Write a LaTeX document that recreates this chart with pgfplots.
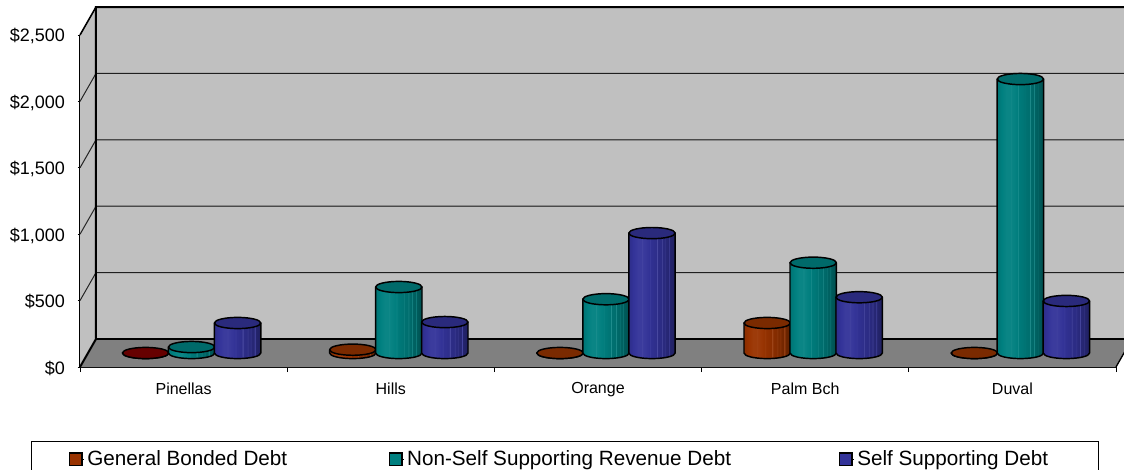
\documentclass[border=0pt]{standalone}
\usepackage{pgfplots}
\usepackage{fontspec}
\setmainfont{Liberation Sans}
\pgfplotsset{compat=1.18}

% Debt by county, in millions of dollars
\pgfplotstableread{
i bonded
0 0
1 25
2 0
3 226
4 0
}\bondeddata
\pgfplotstableread{
i revenue
0 45
1 497
2 405
3 680
4 2063
}\revenuedata
\pgfplotstableread{
i selfsupp
0 226
1 233
2 903
3 420
4 392
}\selfsuppdata

\definecolor{cbonded}{HTML}{993300}
\definecolor{crevenue}{HTML}{008080}
\definecolor{cselfsupp}{HTML}{333399}
\definecolor{tbonded}{HTML}{7A2A00}
\definecolor{trevenue}{HTML}{006A6A}
\definecolor{tselfsupp}{HTML}{2A2A7C}
\definecolor{tzero}{HTML}{660000}

% Faceted side of a cylinder: lit on the left, dark on the right
\newcommand\cylshading[2]{%
  \pgfdeclarehorizontalshading{#1}{100bp}{%
    color(0bp)=(#2!90!black); color(25bp)=(#2!90!black);
    color(30bp)=(#2); color(35bp)=(#2!96!white); color(39bp)=(#2!96!white);
    color(39.5bp)=(#2!88!white); color(40bp)=(#2!96!white);
    color(47bp)=(#2!98!black); color(47.5bp)=(#2!90!white); color(48bp)=(#2!96!black);
    color(55bp)=(#2!90!black); color(55.5bp)=(#2!86!white); color(56bp)=(#2!88!black);
    color(60bp)=(#2!86!black); color(60.5bp)=(#2!84!white); color(61bp)=(#2!84!black);
    color(64bp)=(#2!80!black); color(64.5bp)=(#2!88!white); color(65bp)=(#2!78!black);
    color(68bp)=(#2!74!black); color(68.5bp)=(#2!90!white); color(69bp)=(#2!72!black);
    color(75bp)=(#2!62!black); color(100bp)=(#2!62!black)}}
\cylshading{sbonded}{cbonded}
\cylshading{srevenue}{crevenue}
\cylshading{sselfsupp}{cselfsupp}

% One cylinder: the mark sits on the centre of the top face; its side
% runs down by the value, at the y scale of the axis
\newcommand\declarecyl[4]{%
  \pgfdeclareplotmark{#1}{%
    \pgfmathsetlengthmacro\cylh{\barval*0.0996}%
    \pgftransformshift{\pgfqpoint{#4}{10.5pt}}%
    \begin{scope}[line width=1.1pt, line join=round]
      \path[shading=#2, draw=black]
        (-17.4pt,0pt) -- (-17.4pt,-\cylh)
        arc[start angle=180, end angle=360, x radius=17.4pt, y radius=4.2pt]
        -- (17.4pt,0pt) -- cycle;
      \draw[black, fill=#3, rotate=1.5] (0pt,0pt) ellipse[x radius=17.4pt, y radius=4.2pt];
    \end{scope}}}
\declarecyl{cylbonded}{sbonded}{tbonded}{-28.5pt}
\declarecyl{cylzero}{sbonded}{tzero}{-28.5pt}
\declarecyl{cylrevenue}{srevenue}{trevenue}{6pt}
\declarecyl{cylselfsupp}{sselfsupp}{tselfsupp}{40.5pt}

\pgfplotsset{
  cylinder series/.style={
    scatter, only marks, mark=#1,
    visualization depends on={rawy \as \barval}},
  swatch/.style={legend image code/.code={
    \path (0pt,0pt) -- (11pt,0pt);
    \draw[black, line width=1.1pt, fill=#1] (0pt,-4.6pt) rectangle (9.4pt,4.8pt);}}
}

% Offset of the back wall from the front plane, in axis units
\newcommand\dx{0.0772}
\newcommand\dy{210.8}

\begin{document}
\begin{tikzpicture}
\path[use as bounding box, clip] (0,0) rectangle (843pt,351.75pt);
\begin{axis}[
  at={(60pt,76.5pt)}, anchor=south west,
  scale only axis, width=777pt, height=249pt,
  clip=false,
  xmin=-0.5, xmax=4.5, ymin=0, ymax=2500,
  axis lines=left,
  axis line style={-, black, line width=1pt},
  tick align=outside,
  xtick={0,1,2,3,4},
  xticklabels={Pinellas,Hills,Orange,Palm Bch,Duval},
  minor xtick={-0.5,0.5,1.5,2.5,3.5,4.5},
  major x tick style={draw=none},
  minor x tick style={black, line width=0.6pt},
  minor tick length=3.75pt,
  ytick={0,500,1000,1500,2000,2500},
  yticklabels={\$0,\$500,{\$1,000},{\$1,500},{\$2,000},{\$2,500}},
  y tick style={black, line width=0.6pt},
  major tick length=1.8pt,
  x tick label style={font=\fontsize{12pt}{14pt}\selectfont, yshift=-6.5pt},
  y tick label style={font=\fontsize{13.5pt}{15pt}\selectfont, xshift=-6pt, yshift=-1pt},
  legend columns=3,
  legend style={
    at={(axis description cs:-0.0473,-0.3343)}, anchor=south west,
    draw=black, line width=0.7pt,
    inner xsep=28pt, inner ysep=5.2pt,
    font=\fontsize{15.5pt}{17pt}\selectfont,
    cells={anchor=west},
    /tikz/column 2/.style={column sep=74pt},
    /tikz/column 4/.style={column sep=78.8pt}},
  legend cell align=left,
]
  % Chart walls and floor
  \fill[fill={rgb,255:red,192;green,192;blue,192}]
    (axis cs:-0.5,0) -- (axis cs:-0.5+\dx,\dy) -- (axis cs:-0.5+\dx,2500+\dy)
    -- (axis cs:-0.5,2500) -- cycle;
  \fill[fill={rgb,255:red,192;green,192;blue,192}]
    (axis cs:-0.5+\dx,\dy) rectangle (axis cs:4.5+\dx,2500+\dy);
  \fill[fill={rgb,255:red,128;green,128;blue,128}]
    (axis cs:-0.5,0) -- (axis cs:4.5,0) -- (axis cs:4.5+\dx,\dy)
    -- (axis cs:-0.5+\dx,\dy) -- cycle;
  \pgfplotsinvokeforeach{500,1000,1500,2000}{
    \draw[black!85, line width=0.75pt] (axis cs:-0.5,#1)
      -- (axis cs:-0.5+\dx,#1+\dy) -- (axis cs:4.5+\dx,#1+\dy);
  }
  \draw[black, line width=1.5pt] (axis cs:-0.5,0) -- (axis cs:-0.5+\dx,\dy)
    -- (axis cs:-0.5+\dx,2500+\dy) -- (axis cs:4.5+\dx,2500+\dy);
  \draw[black, line width=1.3pt] (axis cs:-0.5+\dx,\dy) -- (axis cs:4.5+\dx,\dy);
  \draw[black, line width=1.2pt] (axis cs:-0.5,2500) -- (axis cs:-0.5+\dx,2500+\dy);
  \draw[black, line width=1pt] (axis cs:4.5,0) -- (axis cs:4.5+\dx,\dy);

  % Cylinders, one series at a time
  \addplot[cylinder series=cylzero, forget plot] coordinates {(0,0)};
  \addplot[cylinder series=cylbonded, swatch=cbonded] table[x=i, y=bonded, skip coords between index={0}{1}] {\bondeddata};
  \addlegendentry{General Bonded Debt}
  \addplot[cylinder series=cylrevenue, swatch=crevenue] table[x=i, y=revenue] {\revenuedata};
  \addlegendentry{Non-Self Supporting Revenue Debt}
  \addplot[cylinder series=cylselfsupp, swatch=cselfsupp] table[x=i, y=selfsupp] {\selfsuppdata};
  \addlegendentry{Self Supporting Debt\rule{8pt}{0pt}}

  % Wall lines faintly showing through the cylinders
  \pgfplotsinvokeforeach{0,500,1000,1500,2000}{
    \draw[black, line width=0.75pt, opacity=0.18]
      (axis cs:-0.5+\dx,#1+\dy) -- (axis cs:4.5+\dx,#1+\dy);
  }
\end{axis}
\end{tikzpicture}
\end{document}
